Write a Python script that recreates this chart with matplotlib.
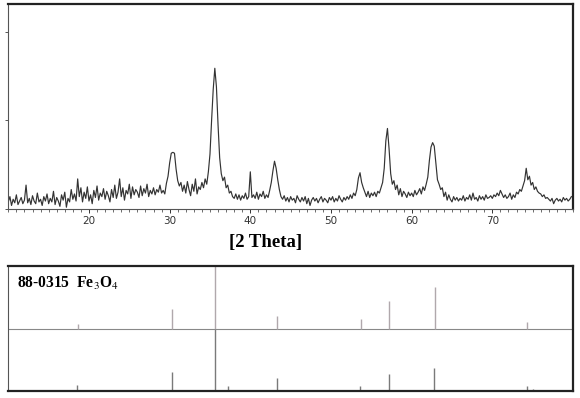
import numpy as np
import matplotlib
matplotlib.use("Agg")
import matplotlib.pyplot as plt

# ---- measured pattern: 2-theta from 10.0 in steps of 0.2 ----
two_theta_start = 10.0
two_theta_step = 0.2
intensity = [
    8, 14, 4, 11, 7, 16, 5, 9, 13, 6,
    10, 27, 7, 12, 5, 15, 9, 6, 18, 8,
    11, 4, 14, 9, 17, 6, 12, 8, 20, 5,
    13, 9, 3, 16, 10, 19, 2, 12, 8, 22,
    11, 17, 9, 34, 14, 24, 8, 19, 12, 25,
    9, 16, 6, 21, 13, 26, 10, 18, 14, 23,
    11, 20, 15, 8, 22, 13, 27, 12, 19, 34,
    14, 24, 10, 21, 17, 28, 12, 25, 16, 22,
    19, 13, 26, 15, 23, 18, 28, 14, 21, 17,
    24, 16, 22, 19, 27, 18, 21, 17, 29, 37,
    52, 63, 64, 63, 45, 32, 26, 30, 20, 27,
    18, 31, 22, 15, 28, 20, 34, 17, 25, 22,
    30, 24, 34, 28, 42, 62, 100, 135, 159, 138,
    95, 58, 40, 32, 36, 24, 27, 18, 20, 14,
    12, 17, 11, 16, 10, 15, 12, 18, 11, 14,
    42, 13, 16, 12, 19, 11, 17, 14, 20, 12,
    16, 13, 21, 30, 43, 54, 46, 33, 22, 14,
    11, 15, 9, 13, 8, 14, 10, 12, 7, 15,
    11, 8, 13, 9, 14, 6, 12, 4, 10, 13,
    9, 12, 7, 11, 14, 8, 12, 10, 7, 13,
    10, 14, 8, 12, 9, 15, 11, 8, 13, 10,
    14, 11, 16, 12, 18, 15, 22, 35, 41, 30,
    24, 19, 14, 20, 13, 18, 15, 19, 14, 20,
    18, 24, 30, 46, 77, 91, 68, 40, 28, 32,
    22, 27, 16, 23, 14, 20, 17, 13, 19, 15,
    18, 14, 21, 16, 19, 23, 17, 25, 21, 28,
    36, 55, 70, 75, 71, 52, 33, 28, 22, 24,
    14, 19, 10, 16, 11, 8, 14, 10, 13, 9,
    12, 10, 15, 9, 13, 11, 16, 10, 18, 11,
    13, 9, 15, 11, 14, 10, 16, 12, 13, 15,
    12, 16, 14, 18, 15, 21, 17, 13, 16, 12,
    14, 18, 11, 16, 13, 19, 17, 22, 20, 26,
    32, 46, 33, 37, 27, 30, 22, 25, 20, 18,
    17, 14, 16, 12, 13, 11, 9, 12, 6, 10,
    12, 9, 11, 8, 13, 10, 12, 9, 11, 14,
]

# ---- reference card 88-0315 Fe3O4 (upper row) ----
card_pos = [18.6, 30.3, 35.6, 43.3, 53.7, 57.2, 62.9, 74.3]
card_rel = [0.07, 0.31, 1.00, 0.20, 0.15, 0.44, 0.66, 0.11]

# ---- peak list (lower row) ----
peak_pos = [18.5, 30.3, 35.6, 37.2, 43.3, 47.4, 53.6, 57.2, 62.8, 66.0, 71.2, 74.3, 75.1, 79.2]
peak_rel = [0.095, 0.30, 1.00, 0.08, 0.21, 0.02, 0.08, 0.27, 0.37, 0.02, 0.02, 0.08, 0.03, 0.02]

x_ticks = [20, 30, 40, 50, 60, 70]
x_label = "[2 Theta]"
card_label = r"88-0315  Fe$_3$O$_4$"

W, H = 580, 398
plt.rcParams['mathtext.fontset'] = 'stix'
fig = plt.figure(figsize=(W / 100, H / 100), dpi=100)

def fx(px):
    return px / W

def fy(py):
    return 1 - py / H

x0, x1 = 8.3, 573
ax = fig.add_axes([fx(x0), fy(209), fx(x1) - fx(x0), fy(4) - fy(209)])
tt = two_theta_start + two_theta_step * np.arange(len(intensity))
ax.plot(tt, intensity, color="#333333", lw=0.85)
ax.set_xlim(10, 80)
ax.set_ylim(0, 231.6)
ax.set_xticks(x_ticks)
ax.set_xticks(np.arange(10, 81, 1), minor=True)
ax.set_yticks([0, 100, 200])
ax.set_yticklabels([])
ax.tick_params(axis="x", which="major", direction="out", length=3, width=0.7,
               labelsize=7.5, pad=2, colors="#333333")
ax.tick_params(axis="x", which="minor", direction="out", length=2, width=0.6, colors="#555555")
ax.tick_params(axis="y", direction="out", length=2, width=0.7, colors="#555555")
for s in ["left", "bottom"]:
    ax.spines[s].set_color("#555555")
    ax.spines[s].set_linewidth(0.8)
for s in ["top", "right"]:
    ax.spines[s].set_color("#222222")
    ax.spines[s].set_linewidth(1.6)

fig.text(fx(266), fy(243), x_label, ha="center", va="center",
         fontfamily="Liberation Serif", fontweight="bold", fontsize=13.5)

# ---- stick panel ----
bx = fig.add_axes([fx(x0), fy(391), fx(x1) - fx(x0), fy(266) - fy(391)])
bx.set_xlim(10, 80)
bx.set_ylim(0, 2)
bx.axhline(1, color="#888888", lw=0.8)
bx.vlines(card_pos, 1, [1 + r for r in card_rel], color="#b0a8ac", lw=1.0)
bx.vlines(peak_pos, 0, peak_rel, color="#7a7a7a", lw=1.0)
bx.set_xticks([])
bx.set_yticks([])
bx.spines["left"].set_color("#555555")
bx.spines["left"].set_linewidth(0.8)
for s in ["top", "right", "bottom"]:
    bx.spines[s].set_color("#222222")
    bx.spines[s].set_linewidth(1.6)
bx.text(0.016, 0.86, card_label, transform=bx.transAxes, ha="left", va="center",
        fontfamily="Liberation Serif", fontweight="bold", fontsize=11.2)

fig.savefig("out.png", dpi=100)
